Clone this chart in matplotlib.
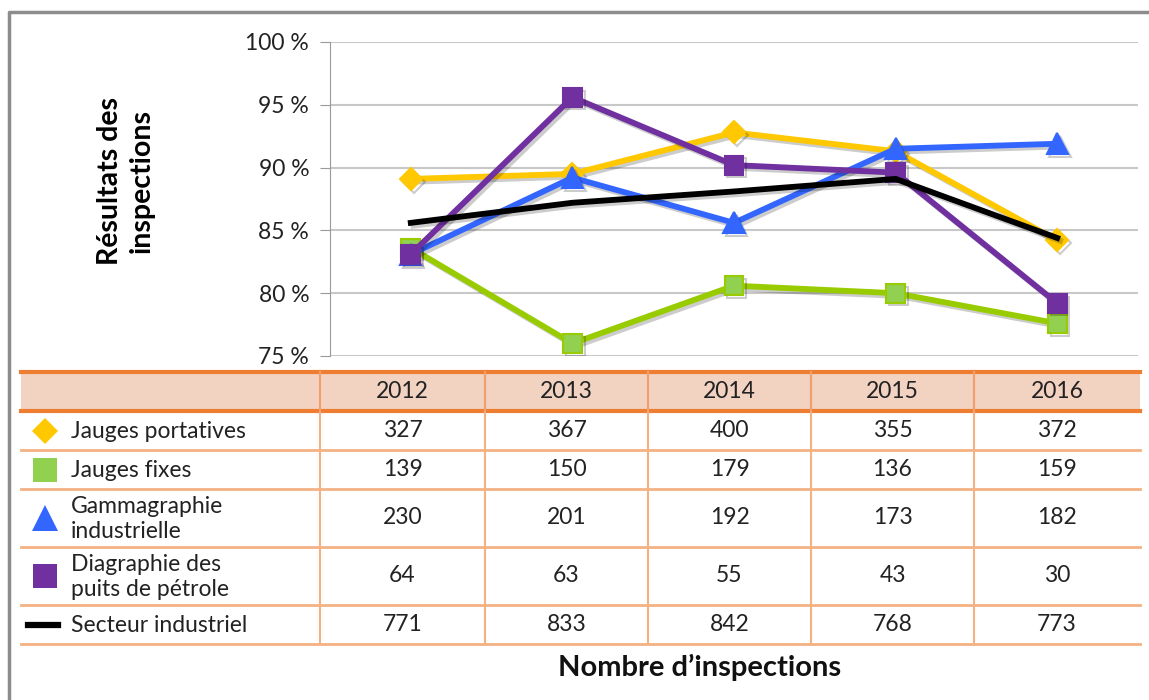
import matplotlib
matplotlib.use('Agg')
import matplotlib.pyplot as plt
import matplotlib.patheffects as pe
from matplotlib.ticker import FuncFormatter

plt.rcParams['font.family'] = ['Lato', 'DejaVu Sans']

# data
years = ['2012', '2013', '2014', '2015', '2016']
series_names = ['Jauges portatives', 'Jauges fixes', 'Gammagraphie\nindustrielle',
                'Diagraphie des\npuits de pétrole', 'Secteur industriel']
portatives_pct = [89.1, 89.5, 92.8, 91.3, 84.2]
fixes_pct = [83.6, 76.0, 80.6, 80.0, 77.6]
gamma_pct = [83.1, 89.2, 85.6, 91.5, 91.9]
diagraphie_pct = [83.1, 95.6, 90.2, 89.6, 79.2]
secteur_pct = [85.6, 87.2, 88.1, 89.1, 84.4]
portatives_n = [327, 367, 400, 355, 372]
fixes_n = [139, 150, 179, 136, 159]
gamma_n = [230, 201, 192, 173, 182]
diagraphie_n = [64, 63, 55, 43, 30]
secteur_n = [771, 833, 842, 768, 773]

pct_rows = [portatives_pct, fixes_pct, gamma_pct, diagraphie_pct, secteur_pct]
count_rows = [portatives_n, fixes_n, gamma_n, diagraphie_n, secteur_n]
colors = ['#FFC800', '#92D050', '#3366FF', '#7030A0', '#000000']
line_colors = ['#FFC800', '#99CC00', '#3366FF', '#7030A0', '#000000']
markers = ['D', 's', '^', 's', None]
msizes = [15, 17, 19, 17, 0]

W, H = 1149, 700
fig = plt.figure(figsize=(W / 100, H / 100), dpi=100)

# overlay axes in pixel coordinates for the frame and the data table
bg = fig.add_axes([0, 0, 1, 1])
bg.set_xlim(0, W)
bg.set_ylim(H, 0)
bg.axis('off')
bg.plot([9, 9, W], [H, 12, 12], color='#8C8C8C', lw=2.5, solid_capstyle='butt')

# chart axes
ax = fig.add_axes([330 / W, 1 - 356 / H, (1138 - 330) / W, (356 - 42) / H])
x = [i + 0.5 for i in range(len(years))]
shadow = [pe.SimpleLineShadow(offset=(2, -2), alpha=0.2, shadow_color='black'), pe.Normal()]
for vals, c, lc, m, ms in zip(pct_rows, colors, line_colors, markers, msizes):
    ax.plot(x, vals, color=lc, lw=4.2, marker=m, markersize=ms * 0.75 if m == 'D' else ms * 0.8,
            markerfacecolor=c, markeredgecolor=c if c != '#92D050' else '#99CC00',
            markeredgewidth=1.5, path_effects=shadow, solid_joinstyle='round')
ax.set_xlim(0, len(years))
ax.set_ylim(75, 100)
ax.set_yticks([75, 80, 85, 90, 95, 100])
ax.yaxis.set_major_formatter(FuncFormatter(lambda v, p: '%d %%' % v))
ax.set_xticks([])
ax.grid(axis='y', color='#C8C8C8', lw=1.5)
ax.set_axisbelow(True)
for s in ['top', 'right', 'bottom']:
    ax.spines[s].set_visible(False)
ax.spines['left'].set_color('#9A9A9A')
ax.tick_params(axis='y', length=7, color='#9A9A9A', labelsize=16.5, labelcolor='#222222', pad=8)
ax.patch.set_alpha(0)
fig.text(126 / W, 1 - 181 / H, 'Résultats des\ninspections', rotation=90, ha='center', va='center',
         fontsize=20.5, fontweight='bold', linespacing=1.25)

# table
col_edges = [21, 320, 485, 648, 811, 974, 1140]
row_edges = [372, 411, 450, 489, 547, 605, 644]
orange = '#ED7D31'
light = '#F4B183'
bg.fill_between([col_edges[0], col_edges[-1]], row_edges[0], row_edges[1], color='#F2D2C1', lw=0)
for yy in row_edges[2:]:
    bg.plot([col_edges[0], col_edges[-1]], [yy, yy], color=light, lw=2)
for yy in row_edges[:2]:
    bg.plot([col_edges[0], col_edges[-1]], [yy, yy], color=orange, lw=3)
for xx in col_edges[1:-1]:
    bg.plot([xx, xx], [row_edges[0], row_edges[-1]], color=light, lw=1.5)
for xx in col_edges[1:-1]:
    bg.plot([xx, xx], [row_edges[0], row_edges[1]], color='#F0A070', lw=1.5)

fs = 16.5
for j, yr in enumerate(years):
    cx = (col_edges[j + 1] + col_edges[j + 2]) / 2
    bg.text(cx, (row_edges[0] + row_edges[1]) / 2, yr, ha='center', va='center',
            fontsize=fs, color='#222222')
for i, (name, counts) in enumerate(zip(series_names, count_rows)):
    cy = (row_edges[i + 1] + row_edges[i + 2]) / 2
    bg.text(71, cy + 1, name, ha='left', va='center', fontsize=fs, color='#222222', linespacing=1.25)
    for j, n in enumerate(counts):
        cx = (col_edges[j + 1] + col_edges[j + 2]) / 2
        bg.text(cx, cy, str(n), ha='center', va='center', fontsize=fs, color='#222222')
    if markers[i] is None:
        bg.plot([28, 58], [cy, cy], color=colors[i], lw=4.5)
    else:
        bg.plot([45], [cy], marker=markers[i], color=colors[i], markersize=msizes[i] * 0.85 if markers[i] == 'D' else msizes[i],
                markeredgewidth=0, linestyle='none')

fig.text(700 / W, 1 - 667 / H, 'Nombre d\u2019inspections', ha='center', va='center',
         fontsize=21, fontweight='bold', color='#111111')

fig.savefig('out.png', dpi=100)
